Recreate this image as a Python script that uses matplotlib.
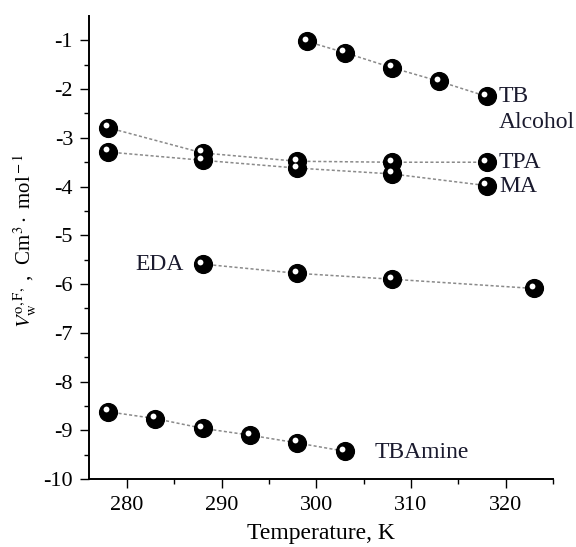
import numpy as np
import matplotlib
matplotlib.use("Agg")
from matplotlib import pyplot as plt
from matplotlib import transforms

# data
tba_x = [299, 303, 308, 313, 318]
tba_y = [-1.02, -1.25, -1.56, -1.84, -2.15]

tpa_x = [278, 288, 298, 308, 318]
tpa_y = [-2.79, -3.31, -3.48, -3.50, -3.50]

ma_x = [278, 288, 298, 308, 318]
ma_y = [-3.29, -3.46, -3.62, -3.74, -3.98]

eda_x = [288, 298, 308, 323]
eda_y = [-5.59, -5.78, -5.90, -6.09]

tbam_x = [278, 283, 288, 293, 298, 303]
tbam_y = [-8.62, -8.76, -8.96, -9.10, -9.26, -9.43]

series = [(tba_x, tba_y), (tpa_x, tpa_y), (ma_x, ma_y), (eda_x, eda_y), (tbam_x, tbam_y)]

plt.rcParams['font.family'] = ['Liberation Serif', 'DejaVu Serif']
plt.rcParams['mathtext.fontset'] = 'stix'
plt.rcParams['axes.unicode_minus'] = False

fig = plt.figure(figsize=(5.76, 5.47), dpi=100)
ax = fig.add_axes([0.1545, 0.1243, 0.8055, 0.8464])

# white highlight shifted up-left on each ball
hl = transforms.offset_copy(ax.transData, fig=fig, x=-2.2, y=2.5, units='dots')

for xs, ys in series:
    ax.plot(xs, ys, linestyle=(0, (2, 1.5)), color='#8a8a8a', lw=1.1, zorder=1)
    ax.plot(xs, ys, 'o', ms=12.8, color='black', mec='black', zorder=2)
    ax.plot(xs, ys, 'o', ms=4.2, color='white', mec='none', transform=hl, zorder=3)

ax.set_xlim(276, 325)
ax.set_ylim(-10, -0.5)
ax.set_xticks([280, 290, 300, 310, 320])
ax.set_xticks([285, 295, 305, 315, 325], minor=True)
ax.set_yticks(np.arange(-10, 0, 1))
ax.set_yticks(np.arange(-9.5, -0.5, 1), minor=True)
ax.spines['top'].set_visible(False)
ax.spines['right'].set_visible(False)
ax.tick_params(which='major', direction='out', length=6.5, width=1.0, labelsize=16)
ax.tick_params(axis='y', which='major', pad=5)
ax.tick_params(axis='x', which='major', pad=5.5)
ax.tick_params(which='minor', direction='out', length=3.5, width=1.0)
for s in ['left', 'bottom']:
    ax.spines[s].set_linewidth(1.4)

ax.set_xlabel("Temperature, K", fontsize=17, labelpad=6)
ax.set_ylabel(r"$V_{\rm w}^{\rm o,F,}$ ,  Cm$^3\cdot$ mol$^{\rm -1}$", fontsize=15)
ax.yaxis.set_label_coords(-0.108, 0.515)

tc = '#1a1a2e'
ax.text(319.3, -2.15, "TB", fontsize=17, color=tc, va='center', ha='left')
ax.text(319.3, -2.68, "Alcohol", fontsize=17, color=tc, va='center', ha='left')
ax.text(319.3, -3.5, "TPA", fontsize=17, color=tc, va='center', ha='left')
ax.text(319.3, -4.0, "MA", fontsize=17, color=tc, va='center', ha='left')
ax.text(280.9, -5.6, "EDA", fontsize=17, color=tc, va='center', ha='left')
ax.text(306.2, -9.45, "TBAmine", fontsize=17, color=tc, va='center', ha='left')

fig.savefig("out.png", dpi=100)
